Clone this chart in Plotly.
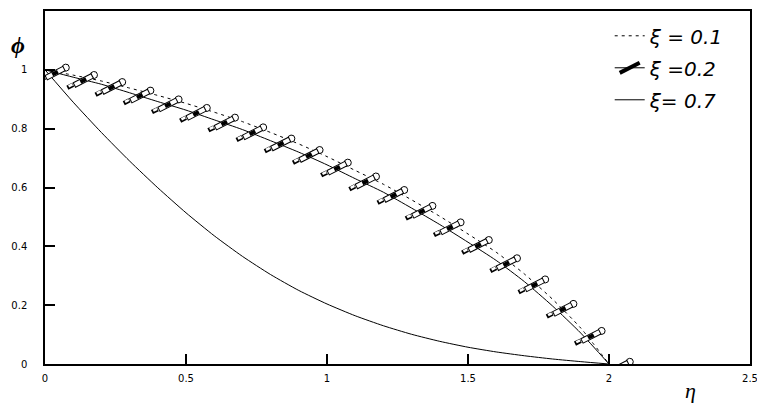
import plotly.graph_objects as go

# ---- data ----
eta = [0.0, 0.1, 0.2, 0.3, 0.4, 0.5, 0.6, 0.7, 0.8, 0.9, 1.0,
       1.1, 1.2, 1.3, 1.4, 1.5, 1.6, 1.7, 1.8, 1.9, 2.0]

phi_xi01 = [1.000, 0.982, 0.962, 0.938, 0.913, 0.886, 0.856, 0.824, 0.787, 0.748, 0.705,
            0.658, 0.611, 0.558, 0.502, 0.442, 0.380, 0.306, 0.220, 0.122, 0.000]

phi_xi02 = [1.000, 0.975, 0.951, 0.922, 0.892, 0.863, 0.830, 0.797, 0.759, 0.720, 0.677,
            0.630, 0.584, 0.530, 0.474, 0.414, 0.352, 0.280, 0.197, 0.105, 0.000]

phi_xi07 = [1.000, 0.890, 0.787, 0.690, 0.599, 0.514, 0.436, 0.366, 0.304, 0.250, 0.204,
            0.164, 0.130, 0.101, 0.077, 0.057, 0.041, 0.028, 0.017, 0.008, 0.000]

names = ["ξ = 0.1", "ξ =0.2", "ξ= 0.7"]

x_ticks = [0, 0.5, 1, 1.5, 2, 2.5]
x_ticktext = ["0", "0.5", "1", "1.5", "2", "2.5"]
y_ticks = [0, 0.2, 0.4, 0.6, 0.8, 1.0, 1.2]
y_ticktext = ["0", "0.2", "0.4", "0.6", "0.8", "1", "1.2"]

SANS = "DejaVu Sans, Arial, sans-serif"
SERIF = "Liberation Serif, Times New Roman, serif"

fig = go.Figure()

# xi = 0.1 dotted
fig.add_trace(go.Scatter(
    x=eta, y=phi_xi01, mode="lines", name=names[0], legendgroup="a", legendrank=1,
    line=dict(color="black", width=1, dash="3px,4px", shape="spline", smoothing=0.6),
))

# xi = 0.7 solid
fig.add_trace(go.Scatter(
    x=eta, y=phi_xi07, mode="lines", name=names[2], legendgroup="c", legendrank=3,
    line=dict(color="black", width=1, shape="spline", smoothing=0.6),
))


def pencil_layer(symbol, size, angle, standoff, fill, lw, lcolor="black"):
    return go.Scatter(
        x=eta, y=phi_xi02, mode="markers", showlegend=False, legendgroup="b",
        hoverinfo="skip",
        marker=dict(symbol=symbol, size=size, angle=angle, standoff=standoff,
                    color=fill, line=dict(color=lcolor, width=lw)),
    )


# xi = 0.2 solid line; pencil-shaped markers are built from rotated symbols
fig.add_trace(go.Scatter(
    x=eta, y=phi_xi02, mode="lines", name=names[1], legendgroup="b",
    showlegend=False,
    line=dict(color="black", width=1, shape="spline", smoothing=0.6),
))
fig.add_trace(pencil_layer("circle", 7, -96, 20.9, "white", 1))              # eraser
fig.add_trace(pencil_layer("line-nw", 14.85, -72, 10.6, "black", 6))         # body outline
fig.add_trace(pencil_layer("line-nw", 13.4, -72, 10.6, "white", 4, "white"))  # body inside
fig.add_trace(pencil_layer("line-nw", 4.5, -72, 10.6, "black", 4))           # band
fig.add_trace(pencil_layer("line-ne", 4.6, 18, 9.5, "black", 4.5))           # point outline
fig.add_trace(pencil_layer("line-ne", 3.0, 18, 8.6, "white", 2.5, "white"))  # point inside

# legend sample for the pencil series
fig.add_trace(go.Scatter(
    x=[None], y=[None], mode="lines+markers", name=names[1], legendgroup="b",
    legendrank=2,
    line=dict(color="black", width=1),
    marker=dict(symbol="line-ns", size=16, angle=243, color="black",
                line=dict(color="black", width=4)),
))

axis_common = dict(
    showline=True, linecolor="black", linewidth=1.5, mirror=True,
    showgrid=False, zeroline=False, ticks="inside", ticklen=10,
    tickcolor="black", tickwidth=1.5, automargin=False,
    tickfont=dict(family=SANS, size=10, color="black"),
)

fig.update_layout(
    width=757, height=400,
    margin=dict(l=37, r=15, t=3, b=44),
    paper_bgcolor="white", plot_bgcolor="white",
    xaxis=dict(range=[0, 2.5], tickvals=x_ticks, ticktext=x_ticktext,
               ticklabelstandoff=4, **axis_common),
    yaxis=dict(range=[0, 1.2], tickvals=y_ticks, ticktext=y_ticktext,
               ticklabelstandoff=14, **axis_common),
    showlegend=True,
    legend=dict(x=0.801, y=0.985, xanchor="left", yanchor="top",
                bgcolor="rgba(0,0,0,0)", borderwidth=0, tracegroupgap=3,
                traceorder="grouped",
                font=dict(family=SANS, size=20, color="black", style="italic")),
    annotations=[
        dict(text="ϕ", xref="paper", yref="paper", x=-0.038, y=0.905,
             xanchor="center", yanchor="middle", showarrow=False,
             font=dict(family=SERIF, size=24, color="black", style="italic", weight="bold")),
        dict(text="η", xref="paper", yref="paper", x=0.915, y=-0.075,
             xanchor="center", yanchor="middle", showarrow=False,
             font=dict(family=SERIF, size=22, color="black", style="italic")),
    ],
)

fig.write_html("out.html")
